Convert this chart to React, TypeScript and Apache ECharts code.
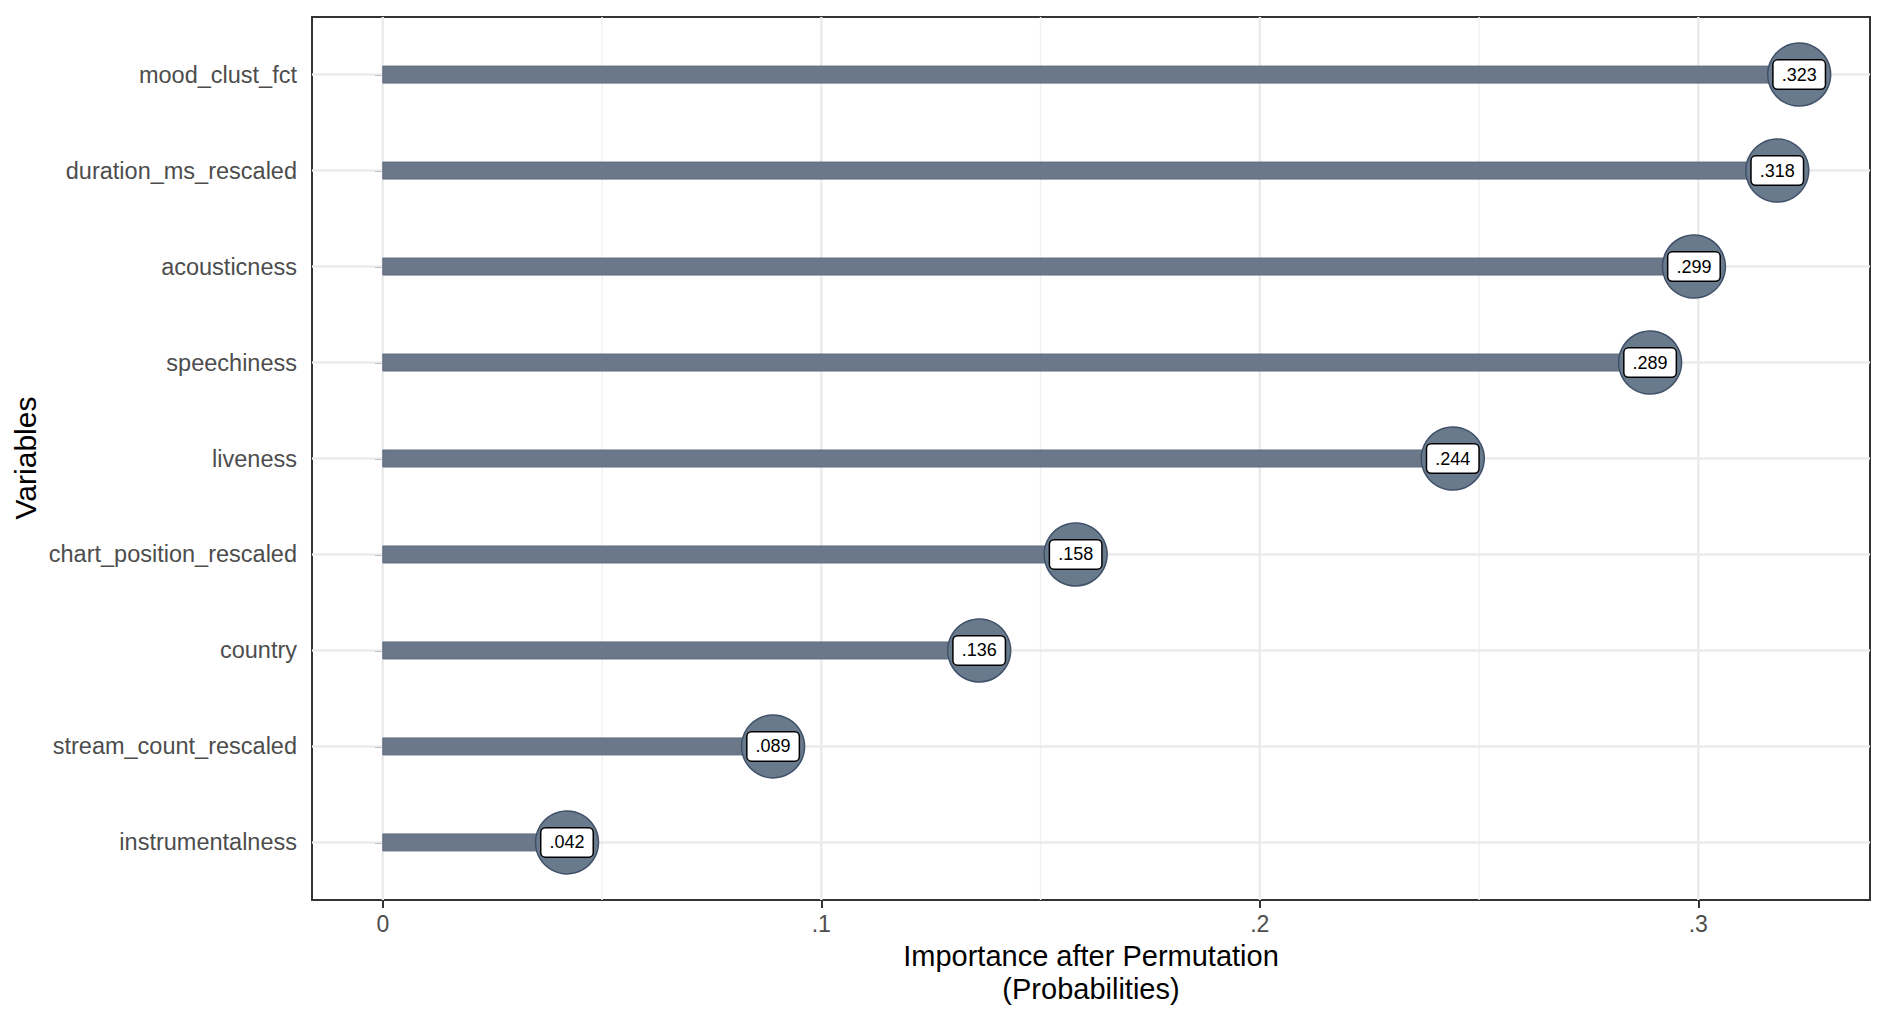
import React, { useEffect, useRef } from "react";
import * as echarts from "echarts";

const variables = [
  "mood_clust_fct",
  "duration_ms_rescaled",
  "acousticness",
  "speechiness",
  "liveness",
  "chart_position_rescaled",
  "country",
  "stream_count_rescaled",
  "instrumentalness",
];
const importance = [0.323, 0.318, 0.299, 0.289, 0.244, 0.158, 0.136, 0.089, 0.042];
const xTicks = [0, 0.1, 0.2, 0.3];
const xTickLabels = ["0", ".1", ".2", ".3"];
const xMinorGrid = [0.05, 0.15, 0.25];
const yPositions = variables.map((_, i) => i + 1);

const X_MIN = -0.01615;
const X_MAX = 0.33915;
const Y_MIN = 0.4;
const Y_MAX = variables.length + 0.6;

const FONT = "'Liberation Sans', Arial, Helvetica, sans-serif";

function fmtVal(v: number): string {
  const s = Math.round(v * 1000).toString().padStart(3, "0");
  return "." + s;
}

export default function App() {
  const ref = useRef<HTMLDivElement>(null);

  useEffect(() => {
    if (!ref.current) return;
    const chart = echarts.init(ref.current, null, { renderer: "svg" });

    const vLineRender = (color: string, width: number) => (params: any, api: any) => {
      const v = api.value(0);
      const p1 = api.coord([v, Y_MIN]);
      const p2 = api.coord([v, Y_MAX]);
      return {
        type: "line",
        shape: { x1: p1[0], y1: p1[1], x2: p2[0], y2: p2[1] },
        style: { stroke: color, lineWidth: width },
        silent: true,
      };
    };
    const hLineRender = (color: string, width: number) => (params: any, api: any) => {
      const v = api.value(0);
      const p1 = api.coord([X_MIN, v]);
      const p2 = api.coord([X_MAX, v]);
      return {
        type: "line",
        shape: { x1: p1[0], y1: p1[1], x2: p2[0], y2: p2[1] },
        style: { stroke: color, lineWidth: width },
        silent: true,
      };
    };

    const option: any = {
      animation: false,
      backgroundColor: "#ffffff",
      textStyle: { fontFamily: FONT },
      grid: {
        left: 312,
        right: 20,
        top: 17,
        bottom: 115,
        show: true,
        borderColor: "#333333",
        borderWidth: 2,
        backgroundColor: "#ffffff",
      },
      xAxis: {
        type: "value",
        min: X_MIN,
        max: X_MAX,
        axisLine: { show: false },
        splitLine: { show: false },
        axisTick: {
          show: true,
          length: 8,
          customValues: xTicks,
          lineStyle: { color: "#333333", width: 2 },
        },
        axisLabel: {
          customValues: xTicks,
          margin: 12,
          fontSize: 23,
          color: "#4d4d4d",
          fontFamily: FONT,
          formatter: (v: number) => {
            const i = xTicks.findIndex((t) => Math.abs(t - v) < 1e-9);
            return i >= 0 ? xTickLabels[i] : "";
          },
        },
        name: "Importance after Permutation\n(Probabilities)",
        nameLocation: "middle",
        nameGap: 33,
        nameTextStyle: {
          fontSize: 29,
          color: "#000000",
          fontFamily: FONT,
          lineHeight: 33,
          verticalAlign: "top",
        },
      },
      yAxis: {
        type: "value",
        inverse: true,
        min: Y_MIN,
        max: Y_MAX,
        axisLine: { show: false },
        splitLine: { show: false },
        axisTick: {
          show: true,
          length: 8,
          customValues: yPositions,
          lineStyle: { color: "#333333", width: 2 },
        },
        axisLabel: {
          customValues: yPositions,
          margin: 15,
          fontSize: 23.5,
          color: "#4d4d4d",
          fontFamily: FONT,
          formatter: (v: number) => variables[Math.round(v) - 1] ?? "",
        },
      },
      graphic: [
        {
          type: "text",
          x: 25,
          y: 458,
          rotation: Math.PI / 2,
          style: {
            text: "Variables",
            fontSize: 30,
            fontFamily: FONT,
            fill: "#000000",
            textAlign: "center",
            textVerticalAlign: "middle",
          },
        },
      ],
      series: [
        {
          type: "custom",
          z: 1,
          silent: true,
          renderItem: vLineRender("#f2f2f2", 1.5),
          data: xMinorGrid.map((v) => [v]),
        },
        {
          type: "custom",
          z: 1,
          silent: true,
          renderItem: vLineRender("#ebebeb", 2.5),
          data: xTicks.map((v) => [v]),
        },
        {
          type: "custom",
          z: 1,
          silent: true,
          renderItem: hLineRender("#ebebeb", 2.5),
          data: yPositions.map((v) => [v]),
        },
        {
          type: "custom",
          z: 2,
          silent: true,
          renderItem: (params: any, api: any) => {
            const y = api.value(1);
            const s = api.coord([0, y]);
            const e = api.coord([api.value(0), y]);
            return {
              type: "rect",
              shape: { x: s[0], y: s[1] - 8.5, width: e[0] - s[0], height: 17 },
              style: { fill: "#6b7889", stroke: "#5f6d80", lineWidth: 1 },
            };
          },
          data: importance.map((v, i) => [v, yPositions[i]]),
        },
        {
          type: "scatter",
          z: 3,
          symbol: "circle",
          symbolSize: 63,
          itemStyle: {
            color: "#6a7a8d",
            borderColor: "#3f5068",
            borderWidth: 1.5,
            opacity: 1,
          },
          label: {
            show: true,
            position: "inside",
            formatter: (p: any) => fmtVal(p.value[0]),
            fontSize: 18,
            lineHeight: 20,
            fontFamily: FONT,
            color: "#000000",
            backgroundColor: "#ffffff",
            borderColor: "#000000",
            borderWidth: 1.5,
            borderRadius: 4,
            padding: [4, 8],
          },
          data: importance.map((v, i) => [v, yPositions[i]]),
        },
      ],
    };

    chart.setOption(option);
    return () => chart.dispose();
  }, []);

  return (
    <div
      ref={ref}
      style={{ position: "fixed", left: 0, top: 0, width: 1890, height: 1015, background: "#fff" }}
    />
  );
}
